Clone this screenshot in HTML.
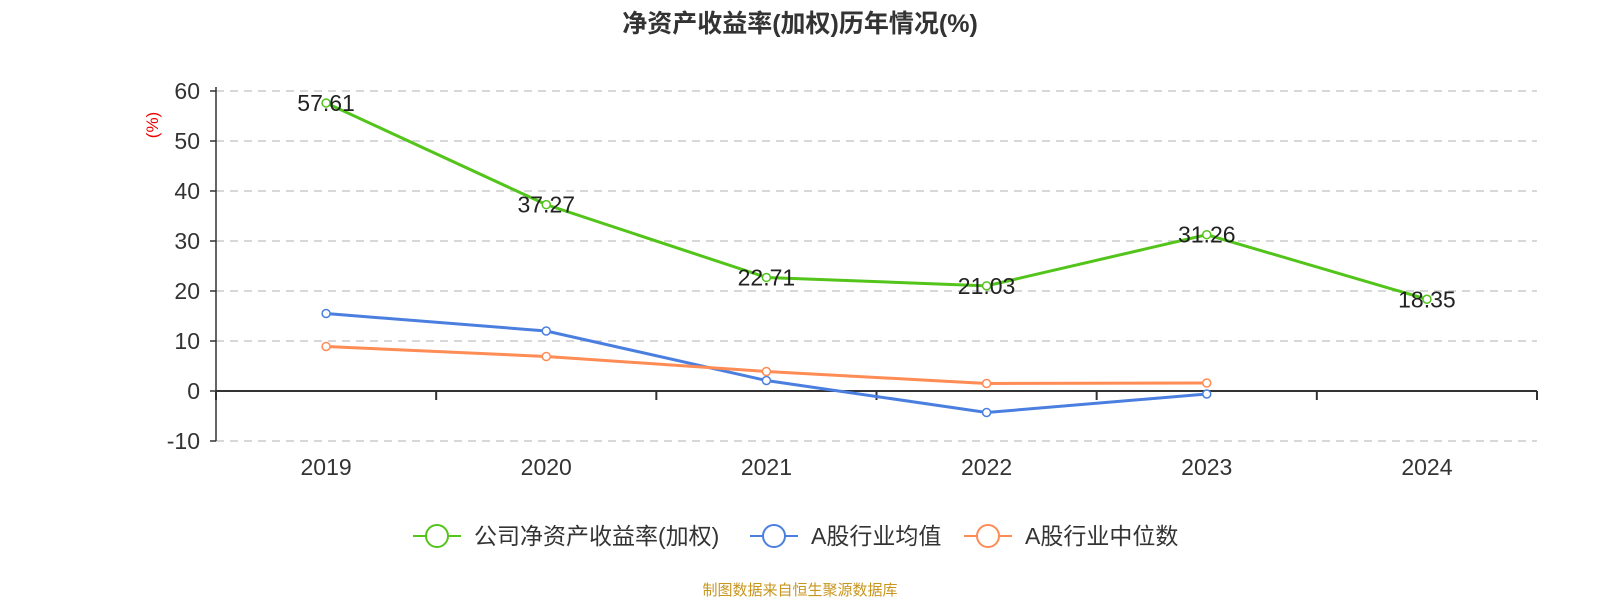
<!DOCTYPE html>
<html><head><meta charset="utf-8"><style>
body{margin:0;background:#fff;width:1600px;height:600px;overflow:hidden;font-family:"Liberation Sans","Noto Sans CJK SC",sans-serif}
</style></head><body>
<svg id="c" width="1600" height="600" xmlns="http://www.w3.org/2000/svg" font-family="Liberation Sans, Noto Sans CJK SC, sans-serif">
<text x="800" y="32" text-anchor="middle" font-size="25" font-weight="bold" fill="#333">净资产收益率(加权)历年情况(%)</text>
<text transform="translate(158,125) rotate(-90)" text-anchor="middle" font-size="17" fill="#e00">(%)</text>
<text x="800" y="595" text-anchor="middle" font-size="15" fill="#c8961e">制图数据来自恒生聚源数据库</text>
<g id="grid"></g><g id="axes"></g><g id="series"></g><g id="legend"></g>
</svg>
<script>
const categories=["2019","2020","2021","2022","2023","2024"];
const yTicks=[-10,0,10,20,30,40,50,60];
const companyRoe=[57.61,37.27,22.71,21.03,31.26,18.35];
const industryAvg=[15.5,12.0,2.1,-4.3,-0.6,null];
const industryMedian=[8.9,6.9,3.9,1.5,1.6,null];
const seriesNames=["公司净资产收益率(加权)","A股行业均值","A股行业中位数"];
const colors=["#52c41a","#4a7fe0","#ff8c55"];
const L=216,R=1537,Y0=391,PPU=5;
const NS="http://www.w3.org/2000/svg";
const bw=(R-L)/categories.length;
const x=i=>L+bw*(i+0.5);
const y=v=>Y0-v*PPU;
function mk(t,a,p){const e=document.createElementNS(NS,t);for(const k in a)e.setAttribute(k,a[k]);p.appendChild(e);return e;}
const grid=document.getElementById('grid'),axes=document.getElementById('axes'),ser=document.getElementById('series'),leg=document.getElementById('legend');
yTicks.forEach(v=>{
 if(v!==0){const g=mk('line',{x1:L,x2:R,y1:y(v),y2:y(v),stroke:'#ccc','stroke-dasharray':'8,6','stroke-width':1.5},grid);
 
 }
 const t=mk('text',{x:L-16,y:y(v)+8,'text-anchor':'end','font-size':23,fill:'#333'},axes);t.textContent=v;
 
 
 mk('line',{x1:L-6,x2:L,y1:y(v),y2:y(v),stroke:'#333','stroke-width':1.5},axes);
});
const ya=mk('line',{x1:L,x2:L,y1:y(60)-4,y2:y(-10),stroke:'#333','stroke-width':1.5},axes);


const xa=mk('line',{x1:L,x2:R,y1:Y0,y2:Y0,stroke:'#333','stroke-width':2},axes);


for(let i=0;i<=categories.length;i++)mk('line',{x1:L+bw*i,x2:L+bw*i,y1:Y0,y2:Y0+9,stroke:'#333','stroke-width':2},axes);
categories.forEach((c,i)=>{const t=mk('text',{x:x(i),y:475,'text-anchor':'middle','font-size':23,fill:'#333'},axes);t.textContent=c;
 
 });
[companyRoe,industryAvg,industryMedian].forEach((d,s)=>{
 const pts=d.map((v,i)=>v==null?null:[x(i),y(v)]).filter(p=>p);
 const pl=mk('polyline',{points:pts.map(p=>p.join(',')).join(' '),fill:'none',stroke:colors[s],'stroke-width':3},ser);
 
 
 pts.forEach(p=>{const c=mk('circle',{cx:p[0],cy:p[1],r:4,fill:'#fff',stroke:colors[s],'stroke-width':1.5},ser);
  
  });
 if(s===0)d.forEach((v,i)=>{const t=mk('text',{x:x(i),y:y(v)+8,'text-anchor':'middle','font-size':23,fill:'#222'},ser);t.textContent=v.toFixed(2);
  
  });
});
const lx=[413,750,964];
seriesNames.forEach((n,s)=>{
 const g=mk('g',{},leg);
 
 
 mk('line',{x1:lx[s],x2:lx[s]+48,y1:536,y2:536,stroke:colors[s],'stroke-width':2},g);
 mk('circle',{cx:lx[s]+24,cy:536,r:11,fill:'#fff',stroke:colors[s],'stroke-width':2},g);
 const t=mk('text',{x:lx[s]+61,y:544,'font-size':23,fill:'#333'},g);t.textContent=n;
});
</script>
</body></html>
